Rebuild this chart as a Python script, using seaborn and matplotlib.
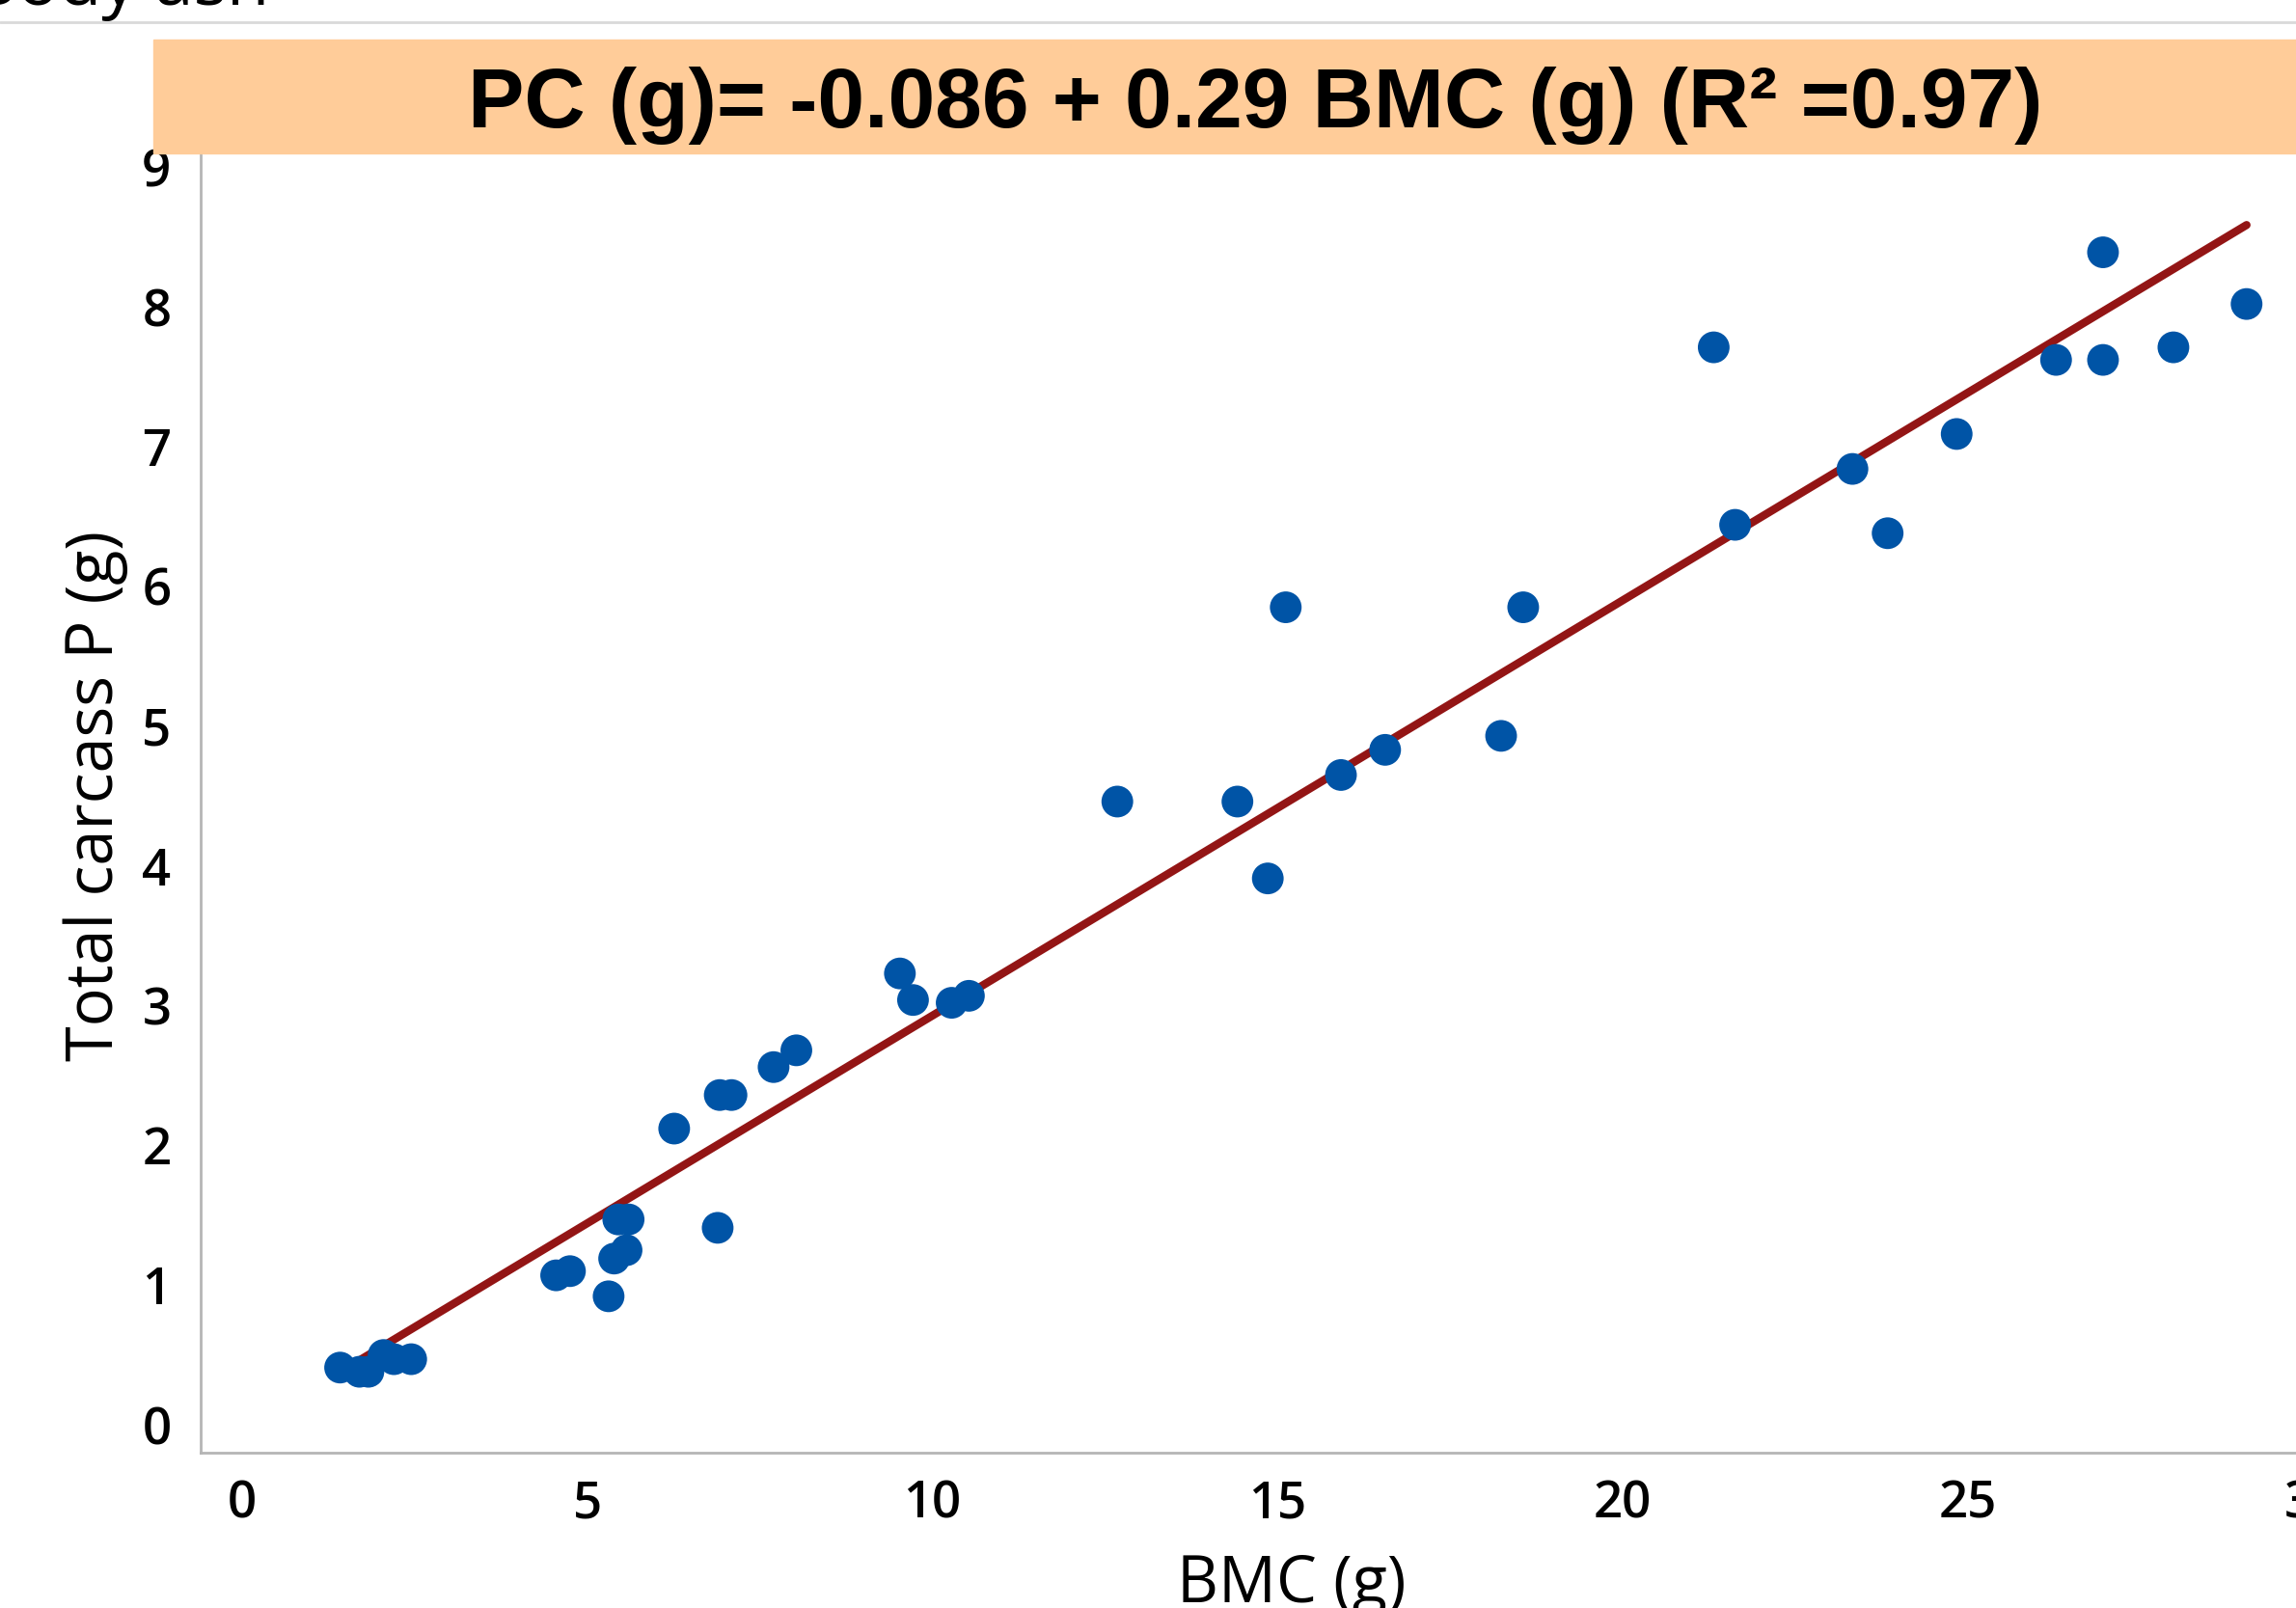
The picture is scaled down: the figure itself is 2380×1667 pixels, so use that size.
# plot.py - carcass P vs BMC scatter with regression line

import numpy as np
import pandas as pd
import matplotlib
matplotlib.use("Agg")
import matplotlib.pyplot as plt
import seaborn as sns

# values
bmc_g = [1.42, 1.70, 1.83, 2.05, 2.20, 2.45, 4.55, 4.75, 5.31, 5.39, 5.57,
         5.45, 5.60, 6.89, 6.26, 6.92, 7.09, 7.70, 8.03, 9.53, 9.72, 10.28,
         10.53, 12.68, 14.42, 14.86, 15.12, 15.92, 16.56, 18.24, 18.56, 21.32,
         21.63, 23.33, 23.84, 24.84, 26.28, 26.96, 26.96, 27.98, 29.04]
carcass_p_g = [0.41, 0.38, 0.38, 0.50, 0.47, 0.47, 1.07, 1.10, 0.92, 1.19, 1.25,
               1.47, 1.47, 1.41, 2.12, 2.36, 2.36, 2.56, 2.68, 3.23, 3.04, 3.02,
               3.07, 4.46, 4.46, 3.91, 5.85, 4.65, 4.83, 4.93, 5.85, 7.71,
               6.44, 6.84, 6.38, 7.09, 7.62, 8.39, 7.62, 7.71, 8.02]
x_ticks = [0, 5, 10, 15, 20, 25, 30]
y_ticks = [0, 1, 2, 3, 4, 5, 6, 7, 8, 9]
title_text = "PC (g)= -0.086 + 0.29 BMC (g) (R\u00b2 =0.97)"

df = pd.DataFrame({"BMC": bmc_g, "PC": carcass_p_g})

sns.set_theme(style="white")
plt.rcParams["font.family"] = ["Open Sans", "DejaVu Sans"]
plt.rcParams["text.color"] = "black"
plt.rcParams["axes.labelcolor"] = "black"

fig = plt.figure(figsize=(23.8, 16.67), dpi=100)
ax = fig.add_axes([0.0874, 0.0965, 0.95, 0.817])

sns.regplot(data=df, x="BMC", y="PC", ax=ax, scatter=False, ci=None,
            truncate=True, line_kws={"color": "#931515", "lw": 6})
sns.scatterplot(data=df, x="BMC", y="PC", ax=ax, s=560, color="#0054A6",
                edgecolor="none", zorder=3)

ax.set_xlim(-0.6, 31.0)
ax.set_ylim(-0.2, 9.2)
ax.set_xticks(x_ticks)
ax.set_yticks(y_ticks)
ax.tick_params(axis="both", which="both", direction="out", colors="#b0b0b0",
               labelcolor="black", labelsize=38, width=1.5)
ax.tick_params(axis="x", length=12, pad=8)
ax.tick_params(axis="y", length=14, pad=8)
for lab in ax.get_xticklabels() + ax.get_yticklabels():
    lab.set_fontweight("semibold")

for side in ["top", "right"]:
    ax.spines[side].set_visible(False)
for side in ["left", "bottom"]:
    ax.spines[side].set_color("#b5b5b5")
    ax.spines[side].set_linewidth(2)

ax.set_xlabel("BMC (g)", fontsize=48, labelpad=16, fontweight="medium")
ax.set_ylabel("Total carcass P (g)", fontsize=48, labelpad=10, fontweight="medium")

# orange banner with the regression equation
fig.patches.append(plt.Rectangle((159 / 2380, 1 - 159 / 1667), 1.0, 118 / 1667,
                                 transform=fig.transFigure, color="#FFCC99",
                                 zorder=5))
fig.text(1301 / 2380, 1 - 110 / 1667, title_text, ha="center", va="center",
         fontsize=63, fontweight="bold", family=["Liberation Sans", "DejaVu Sans"],
         color="black", zorder=6)

# cut-off heading of the previous panel and the separator line
fig.text(-0.012, 1 - 5 / 1667, "Body ash", ha="left", va="baseline",
         fontsize=52, color="black")
fig.add_artist(plt.Line2D([0, 1], [1 - 23 / 1667, 1 - 23 / 1667],
                          transform=fig.transFigure, color="#d9d9d9", lw=2))

fig.savefig("out.png", dpi=100)
